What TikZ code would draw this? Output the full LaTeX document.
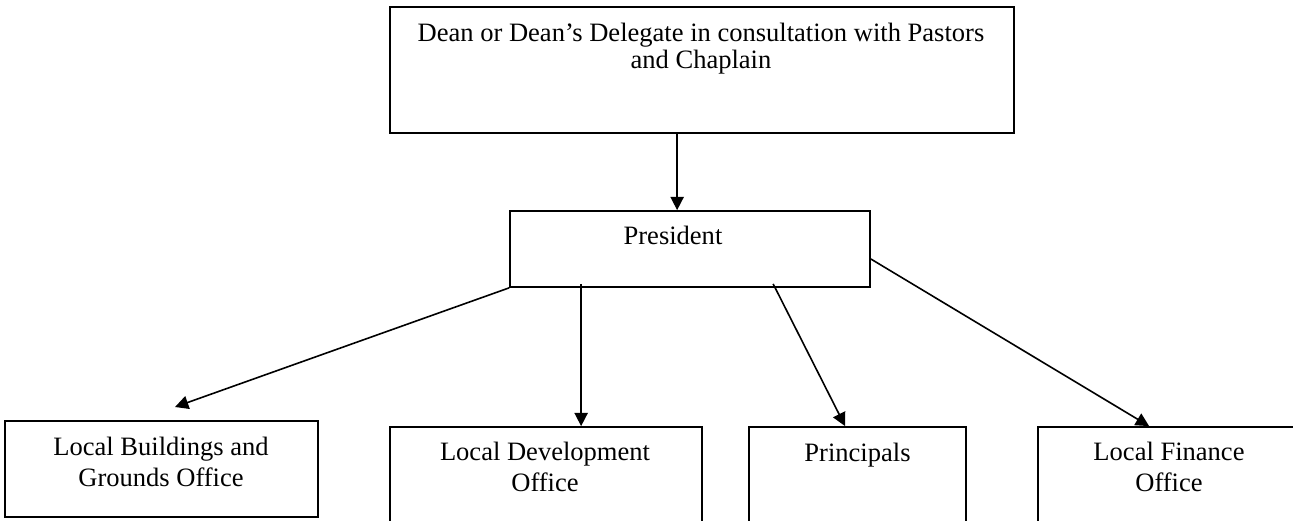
\documentclass[tikz,border=0pt]{standalone}
\usepackage{fontspec}
\setmainfont{Liberation Serif}
\usetikzlibrary{arrows.meta,calc}
\begin{document}
\begin{tikzpicture}[x=0.75pt,y=-0.75pt,
  box/.style={draw=black,line width=1.3pt,rectangle,inner sep=0pt},
  lbl/.style={font=\fontsize{19.9pt}{23pt}\selectfont,align=center,inner sep=0pt,anchor=base},
  conn/.style={line width=1.2pt,-{Triangle[length=10pt,width=10pt]}}]
\useasboundingbox (0,0) rectangle (1293,521);
\clip (0,0) rectangle (1293,521);
% boxes
\node[box,minimum width=468pt,minimum height=94.5pt] (dean) at (702,70) {};
\node[box,minimum width=270pt,minimum height=57pt] (pres) at (690,249) {};
\node[box,minimum width=234.75pt,minimum height=72pt] (bg) at (161.5,469) {};
\node[box,minimum width=234pt,minimum height=84.75pt] (dev) at (546,483.5) {};
\node[box,minimum width=162.75pt,minimum height=84.75pt] (prin) at (857.5,483.5) {};
\node[box,minimum width=196.5pt,minimum height=84.75pt] (fin) at (1169,483.5) {};
% texts (base = baseline of the last line)
\node[lbl,font=\fontsize{19.9pt}{20pt}\selectfont] (deant) at (701,68) {Dean or Dean’s Delegate in consultation with Pastors\\and Chaplain};
\node[lbl] (prest) at (673,244) {President};
\node[lbl] (bgt) at (161,486) {Local Buildings and\\Grounds Office};
\node[lbl] (devt) at (545,491) {Local Development\\Office};
\node[lbl] (print) at (857.5,461) {Principals};
\node[lbl] (fint) at (1169,491) {Local Finance\\Office};
% connectors
\coordinate (d0) at ($(dean.south west)+(288,0)$);
\coordinate (p0) at ($(pres.north west)+(168,0)$);
\draw[conn] (d0) -- (p0);
\coordinate (a1e) at (175,407);
\draw[conn] (pres.south west) -- (a1e);
\coordinate (a2s) at ($(pres.south west)+(72,-4)$);
\coordinate (a2e) at ($(dev.north west)+(192,0)$);
\draw[conn] (a2s) -- (a2e);
\coordinate (a3s) at ($(pres.south west)+(264,-4)$);
\coordinate (a3e) at ($(prin.north west)+(97,0)$);
\draw[conn] (a3s) -- (a3e);
\coordinate (a4s) at ($(pres.east)+(0,10)$);
\coordinate (a4e) at ($(fin.north west)+(112,0)$);
\draw[conn] (a4s) -- (a4e);
\end{tikzpicture}
\end{document}
